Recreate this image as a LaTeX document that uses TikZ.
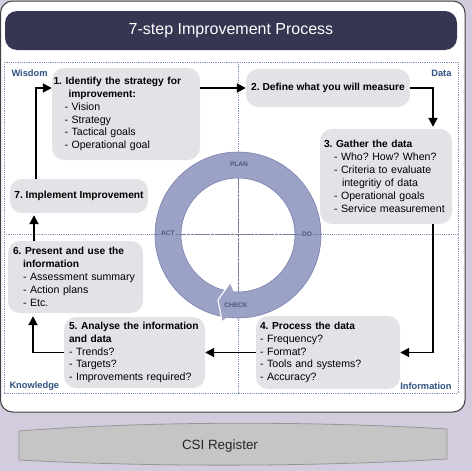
\documentclass[tikz,border=0pt]{standalone}
\usepackage{fontspec}
\setmainfont{Liberation Sans}
\usepackage{tikz}
\usetikzlibrary{arrows.meta}
\definecolor{lavender}{RGB}{211,203,222}
\definecolor{titlenavy}{RGB}{54,53,82}
\definecolor{boxgray}{RGB}{227,226,231}
\definecolor{ringfill}{RGB}{156,161,198}
\definecolor{ringline}{RGB}{120,128,174}
\definecolor{ringtext}{RGB}{80,88,128}
\definecolor{cornerblue}{RGB}{47,82,130}
\definecolor{dotblue}{RGB}{128,150,181}
\definecolor{csigray}{RGB}{197,197,197}
\definecolor{csiline}{RGB}{150,150,150}
\newcommand{\stephead}[1]{{\fontsize{10.2}{12.9}\selectfont\bfseries #1}}
\frenchspacing

\begin{document}
\begin{tikzpicture}[x=1pt,y=1pt,
    stepbox/.style={fill=boxgray, rounded corners=12pt, inner ysep=1pt,
        font=\fontsize{10.6}{12.9}\selectfont},
    flow/.style={line width=1.8pt, -{Triangle[length=9pt,width=9pt]}},
    cornerlabel/.style={text=cornerblue, font=\fontsize{9.3}{10}\selectfont\bfseries},
    ringlabel/.style={text=ringtext, font=\fontsize{6.6}{7}\selectfont\bfseries},
    dotline/.style={dotblue, line width=1pt, dash pattern=on 1.2pt off 1pt}]
        \useasboundingbox (0,0) rectangle (472,-471);
        \fill[lavender] (0,0) rectangle (472,-471);
        \draw[black!75, line width=1pt, fill=white, rounded corners=12pt] (0.5,-1) rectangle (465,-412);

        % title bar
        \node[fill=titlenavy, rounded corners=12pt, minimum width=452pt, minimum height=39pt,
            text=white, font=\fontsize{16}{18}\selectfont] (title) at (231,-30.5) {7-step Improvement Process};

        % quadrants
        \draw[dotline] (4,-62) rectangle (458,-393);
        \draw[dotline] (238,-62) -- (238,-393);
        \draw[dotline] (4,-234) -- (458,-234);

        % PDCA ring
        \coordinate (pdca) at (238,-235);
        \fill[ringfill, even odd rule] (pdca) circle (83) (pdca) circle (57);
        \draw[ringline, line width=0.6pt] (pdca) circle (83) (pdca) circle (57);
        \fill[ringfill] ([shift={(260.5:48.7)}]pdca) -- ([shift={(252.9:68)}]pdca)
            -- ([shift={(259.5:87.5)}]pdca) -- ([shift={(263:82)}]pdca)
            -- ([shift={(266:58)}]pdca) -- cycle;
        \draw[white, line width=1.1pt] ([shift={(260.5:48.7)}]pdca) -- ([shift={(252.9:68)}]pdca)
            -- ([shift={(259.5:87.5)}]pdca);
        \draw[ringtext!80, line width=0.8pt, dash pattern=on 2.5pt off 1.5pt]
            (155,-234) -- (321,-234) (238,-178) -- (238,-292);
        \node[ringlabel] (plan) at (239,-164) {PLAN};
        \node[ringlabel, fill=ringfill, inner sep=1pt] (do) at (307,-234) {DO};
        \node[ringlabel, fill=ringfill, inner sep=1pt] (act) at (168,-233) {ACT};
        \node[ringlabel] (check) at (236,-305) {CHECK};

        % steps
        \node[stepbox, inner xsep=1.5pt, minimum width=148pt, minimum height=92pt, text width=145pt, align=left]
            (identify) at (126,-114)
            {\stephead{1. Identify the strategy for}\\\hspace*{15pt}\stephead{improvement:}\\
             \hspace*{11pt}- Vision\\\hspace*{11pt}- Strategy\\\hspace*{11pt}- Tactical goals\\
             \hspace*{11pt}- Operational goal};
        \node[stepbox, minimum width=164pt, minimum height=38pt] (define) at (328,-88)
            {\stephead{2. Define what you will measure}};
        \node[stepbox, inner xsep=4pt, minimum width=132pt, minimum height=95pt, text width=124pt, align=left]
            (gather) at (386,-176.5)
            {\stephead{3. Gather the data}\\\hspace*{10pt}- Who? How? When?\\
             \hspace*{10pt}- Criteria to evaluate\\\hspace*{18pt}integritiy of data\\
             \hspace*{10pt}- Operational goals\\\hspace*{10pt}- Service measurement};
        \node[stepbox, inner xsep=4pt, minimum width=144pt, minimum height=73pt, text width=136pt, align=left]
            (process) at (328,-352.5)
            {\stephead{4. Process the data}\\- Frequency?\\- Format?\\- Tools and systems?\\- Accuracy?};
        \node[stepbox, inner xsep=5pt, minimum width=141pt, minimum height=71pt, text width=131pt, align=left]
            (analyse) at (134.5,-352.5)
            {\stephead{5. Analyse the information}\\\stephead{and data}\\- Trends?\\- Targets?\\- Improvements required?};
        \node[stepbox, inner xsep=5pt, minimum width=135pt, minimum height=72pt, text width=125pt, align=left]
            (present) at (75.5,-277)
            {\stephead{6. Present and use the}\\\hspace*{10pt}\stephead{information}\\
             \hspace*{10pt}- Assessment summary\\\hspace*{10pt}- Action plans\\\hspace*{10pt}- Etc.};
        \node[stepbox, minimum width=138pt, minimum height=34pt] (implement) at (79,-196)
            {\stephead{7. Implement Improvement}};

        % flow
        \draw[flow] (identify.east |- define.west) -- (define.west);
        \draw[flow] (define.east) -| ([xshift=47pt,yshift=2pt]gather.north);
        \draw[flow] ([xshift=47pt]gather.south) |- (process.east);
        \draw[flow] (process.west) -- (analyse.east);
        \draw[flow] (analyse.west) -| ([xshift=-42.5pt,yshift=-3pt]present.south);
        \draw[flow] ([xshift=-41.5pt]present.north) -- ([xshift=-41.5pt,yshift=-2pt]present.north |- implement.south);
        \draw[flow] ([xshift=-43pt]implement.north) |- (identify.west |- define.west);

        % corners
        \node[cornerlabel, anchor=west] (wisdom) at (8,-73) {Wisdom};
        \node[cornerlabel, anchor=east] (data) at (455,-73) {Data};
        \node[cornerlabel, anchor=west] (knowledge) at (6,-386) {Knowledge};
        \node[cornerlabel, anchor=east] (information) at (455,-386) {Information};

        % register
        \fill[csigray, draw=csiline, line width=0.8pt] (19,-431) .. controls (150,-421) and (310,-421) .. (447,-429)
            -- (447,-459) .. controls (310,-467) and (150,-467) .. (19,-460) -- cycle;
        \node[font=\fontsize{13.4}{15}\selectfont, text=black!85] (csi) at (220,-446) {CSI Register};
    \end{tikzpicture}
\end{document}
